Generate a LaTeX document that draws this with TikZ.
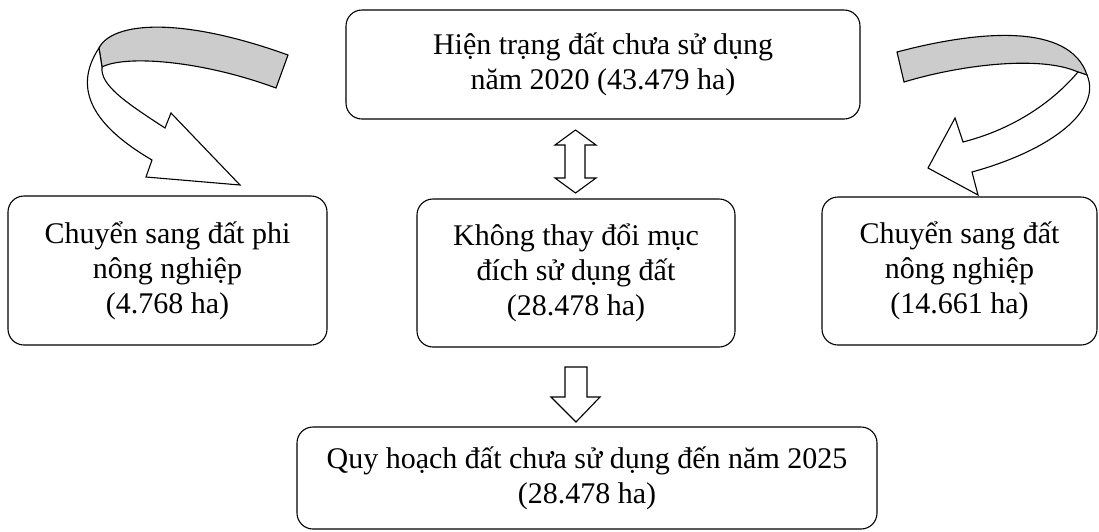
\documentclass[tikz,border=0pt]{standalone}
\usepackage{fontspec}
\setmainfont{Liberation Serif}
\usetikzlibrary{positioning}
\tikzset{
    hop/.style args={#1 #2}{
        draw, rounded corners=16pt, line width=1.1pt,
        minimum width=#1, minimum height=#2,
        align=center, inner sep=0pt,
        font=\fontsize{30}{35}\selectfont
    },
    hop/.default={300pt 140pt}
}
\tikzset{
    muiten/.style={draw, line width=1.1pt, fill=white, line join=miter},
    bangxam/.style={draw, line width=1.1pt, fill=black!20, line join=miter}
}

\begin{document}
\begin{tikzpicture}[x=1pt, y=-1pt]
    \useasboundingbox (0,0) rectangle (1099,531);
    \node[hop={514pt 109pt}] (hientrang) at (603,64.5) {Hiện trạng đất chưa sử dụng\\năm 2020 (43.479 ha)};
    \node[hop={319pt 149pt}] (phinn) at (167.5,270.5) {Chuyển sang đất phi\\nông nghiệp\\(4.768 ha)};
    \node[hop={318pt 148pt}] (giunguyen) at (576,273) {Không thay đổi mục\\đích sử dụng đất\\(28.478 ha)};
    \node[hop={275pt 148pt}] (nongnghiep) at (959.5,271) {Chuyển sang đất\\nông nghiệp\\(14.661 ha)};
    \node[hop={580pt 102pt}] (quyhoach) at (587,478) {Quy hoạch đất chưa sử dụng đến năm 2025\\(28.478 ha)};
    % hai chieu
    \coordinate (d1) at (575.5,130);
    \coordinate (d2) at (575.5,193);
    \draw[muiten] (d1) -- ++(20.5,15) -- ++(-11,0) -- ++(0,33) -- ++(11,0) -- (d2)
        -- ++(-20.5,-15) -- ++(10,0) -- ++(0,-33) -- ++(-10,0) -- cycle;
    % xuong
    \coordinate (x1) at (576,422);
    \draw[muiten] (x1) -- ++(24,-25) -- ++(-13,0) -- ++(0,-30) -- ++(-22,0) -- ++(0,30)
        -- ++(-14,0) -- cycle;
    % cong trai
    \draw[bangxam] (99,48) .. controls (112,22) and (180,16) .. (288,55) -- (276,88)
        .. controls (200,60) and (125,55) .. (102,67) -- cycle;
    \draw[muiten] (99,48) .. controls (78,80) and (80,118) .. (152,160) -- (146,177)
        -- (240,185) -- (171,113) -- (165,128) .. controls (125,102) and (100,85) .. (102,67) -- cycle;
    % cong phai
    \draw[bangxam] (897,52) .. controls (980,30) and (1070,23) .. (1087,75) -- (1078,72)
        .. controls (1040,55) and (960,65) .. (904,82) -- cycle;
    \draw[muiten] (1078,72) .. controls (1050,105) and (1010,130) .. (963,142) -- (955,118)
        -- (928,168) -- (978,195) -- (972,172) .. controls (1052,150) and (1102,110) .. (1087,75) -- cycle;
\end{tikzpicture}
\end{document}
